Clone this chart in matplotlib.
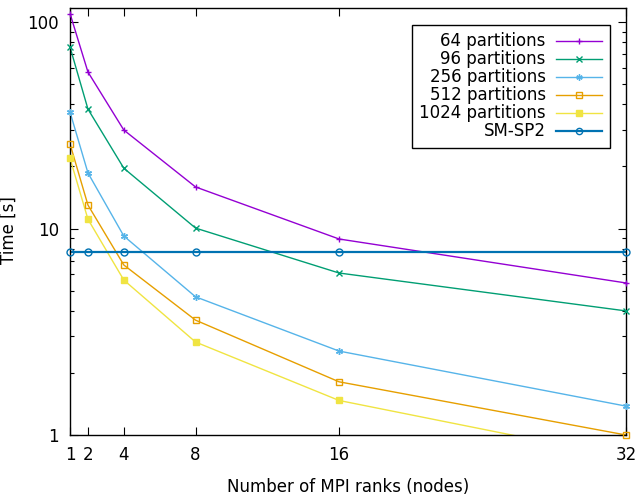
import numpy as np
import matplotlib
matplotlib.use("Agg")
import matplotlib.pyplot as plt
from matplotlib.lines import Line2D
from matplotlib.ticker import FixedLocator, NullFormatter

ranks = [1, 2, 4, 8, 16, 32]
t64 = [110, 57.3, 30.0, 15.9, 8.9, 5.45]
t96 = [75.7, 37.9, 19.6, 10.05, 6.09, 3.99]
t256 = [36.7, 18.6, 9.2, 4.67, 2.55, 1.38]
t512 = [25.7, 13.0, 6.66, 3.6, 1.81, 1.0]
t1024 = [21.9, 11.1, 5.63, 2.82, 1.47, 0.775]
tsm = [7.72, 7.72, 7.72, 7.72, 7.72, 7.72]

labels = ["64 partitions", "96 partitions", "256 partitions", "512 partitions",
          "1024 partitions", "SM-SP2"]
colors = ["#9400d3", "#009e73", "#56b4e9", "#e69f00", "#f0e442", "#0072b2"]
markers = ["+", "x", (6, 2, 0), "s", "s", "o"]
filled = [True, True, True, False, True, False]
series = [t64, t96, t256, t512, t1024, tsm]

plt.rcParams['font.family'] = ['DejaVu Sans']
plt.rcParams['font.size'] = 12

fig = plt.figure(figsize=(6.38, 4.98), dpi=100)
ax = fig.add_axes([70/638, 63/498, 556/638, 427/498])
ymin, ymax = 1.0, 117.0
ax.set_yscale('log')
ax.set_xlim(1, 32)
ax.set_ylim(ymin, ymax)

handles = []
for y, lab, c, m, f in zip(series, labels, colors, markers, filled):
    lw = 1.6 if lab == "SM-SP2" else 1.0
    ax.plot(ranks, y, color=c, lw=lw, zorder=2)
    xs = [x for x, v in zip(ranks, y) if ymin <= v <= ymax]
    ys = [v for v in y if ymin <= v <= ymax]
    mfc = c if f else 'none'
    ax.plot(xs, ys, linestyle='none', marker=m, color=c, mfc=mfc, mec=c,
            ms=5, mew=1.0, clip_on=False, zorder=3)
    handles.append(Line2D([], [], color=c, lw=lw, marker=m, mfc=mfc, mec=c,
                          ms=4.5, mew=1.0))

ax.set_xticks(ranks)
ax.set_xticklabels([str(r) for r in ranks])
ax.yaxis.set_major_locator(FixedLocator([1, 10, 100]))
ax.set_yticklabels(["1", "10", "100"])
minor = [k * 10**e for e in range(0, 3) for k in range(2, 10) if k * 10**e < ymax]
ax.yaxis.set_minor_locator(FixedLocator(minor))
ax.yaxis.set_minor_formatter(NullFormatter())
ax.tick_params(which='both', direction='in', top=True, right=True, width=0.8)
ax.tick_params(which='major', length=6, pad=8)
ax.tick_params(which='minor', length=3)
for s in ax.spines.values():
    s.set_linewidth(1.0)

ax.set_xlabel("Number of MPI ranks (nodes)", labelpad=10)
fig.text(9/638, 0.538, "Time [s]", rotation=90, ha='center', va='center', fontsize=12)

leg = ax.legend(handles, labels, loc='upper right',
                bbox_to_anchor=(610/638, 1 - 25/498), bbox_transform=fig.transFigure,
                borderaxespad=0,
                markerfirst=False, fancybox=False, framealpha=1, edgecolor='black',
                handlelength=2.8, handletextpad=0.6, labelspacing=0.0,
                borderpad=0.45, fontsize=12)
for t in leg.get_texts():
    t.set_ha('right')
leg.get_frame().set_linewidth(1.0)

fig.savefig("out.png", dpi=100)
